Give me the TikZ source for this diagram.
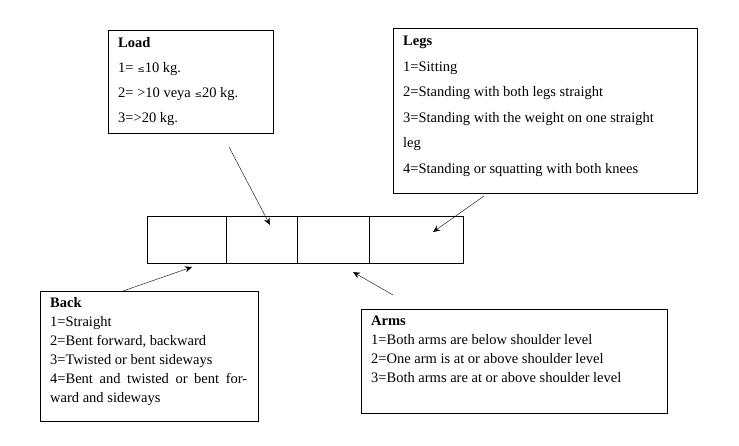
\documentclass[tikz,border=0pt]{standalone}
\usetikzlibrary{arrows.meta}
\usepackage{fontspec}
\setmainfont{Liberation Serif}
\newfontfamily\symf{DejaVu Serif}
\begin{document}
\begin{tikzpicture}[x=1pt,y=-1pt,
  box/.style={draw,thin,anchor=north west,inner sep=0pt},
  txt/.style={anchor=north west,inner sep=0pt,align=left,font=\fontsize{14.5}{19}\selectfont},
  arr/.style={-{Stealth[length=7pt,width=6pt]},thin}]
\useasboundingbox (0,0) rectangle (739,445);
\node[box,minimum width=165,minimum height=103] (load) at (108,30) {};
\node[box,minimum width=304,minimum height=165] (legs) at (393,28) {};
\node[box,minimum width=218,minimum height=130] (back) at (40,291) {};
\node[box,minimum width=306,minimum height=104] (arms) at (361,309) {};
\node[box,minimum width=79,minimum height=47] (c1) at (147,216) {};
\node[box,minimum width=71,minimum height=47] (c2) at (226,216) {};
\node[box,minimum width=72,minimum height=47] (c3) at (297,216) {};
\node[box,minimum width=94,minimum height=47] (c4) at (369,216) {};
\node[txt,font=\fontsize{14.5}{25}\selectfont] (loadt) at (118,37) {\textbf{Load}\\1= {\symf\small ≤}10 kg.\\2= >10 veya {\symf\small ≤}20 kg.\\3=>20 kg.};
\node[txt,font=\fontsize{14.5}{25.5}\selectfont] (legst) at (403,36) {\textbf{Legs}\\1=Sitting\\2=Standing with both legs straight\\3=Standing with the weight on one straight\\leg\\4=Standing or squatting with both knees};
\node[txt,text width=197,align=justify] (backt) at (50,297) {\textbf{Back}\\1=Straight\\2=Bent forward, backward\\3=Twisted or bent sideways\\4=Bent and twisted or bent forward and sideways};
\node[txt] (armst) at (371,316) {\textbf{Arms}\\1=Both arms are below shoulder level\\2=One arm is at or above shoulder level\\3=Both arms are at or above shoulder level};
\coordinate (a1) at (229,147); \coordinate (b1) at (270,225);
\coordinate (a2) at (484,196); \coordinate (b2) at (433,232);
\coordinate (a3) at (123,291); \coordinate (b3) at (192,267);
\coordinate (a4) at (393,295); \coordinate (b4) at (353,272);
\draw[arr] (a1) -- (b1);
\draw[arr] (a2) -- (b2);
\draw[arr] (a3) -- (b3);
\draw[arr] (a4) -- (b4);
\end{tikzpicture}
\end{document}
